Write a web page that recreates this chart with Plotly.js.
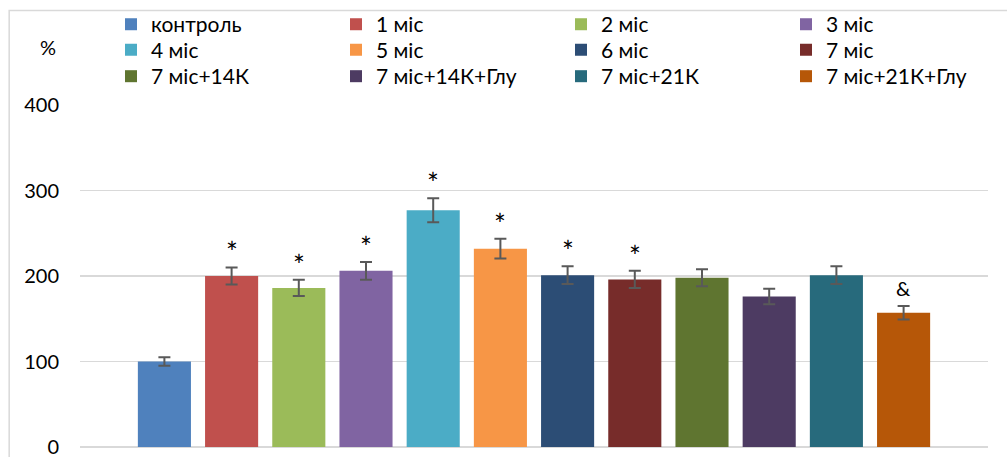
<!DOCTYPE html>
<html>
<head>
<meta charset="utf-8">
<script src="https://cdn.plot.ly/plotly-3.0.1.min.js"></script>
<style>html,body{margin:0;padding:0;background:#fff;}#chart{width:1007px;height:457px;}</style>
</head>
<body>
<div id="chart"></div>
<script>
const categories = ["контроль","1 міс","2 міс","3 міс","4 міс","5 міс","6 міс","7 міс","7 міс+14К","7 міс+14К+Глу","7 міс+21К","7 міс+21К+Глу"];
const values = [100, 200, 186, 206, 277, 232, 201, 196, 198, 176, 201, 157];
const errors = [5, 10, 9.5, 10.5, 14, 11.5, 10.5, 10, 10, 9, 10.5, 8];
const marks = ["", "*", "*", "*", "*", "*", "*", "*", "", "", "", "&"];
const colors = ["#4F81BD","#C0504D","#9BBB59","#8064A2","#4BACC6","#F79646","#2C4D75","#772C2A","#5F7530","#4D3B62","#276A7C","#B65708"];

const FONT = "Lato, 'Open Sans', sans-serif";
const legendIds = ["legend", "legend2", "legend3"];

const traces = categories.map((c, i) => ({
  type: "bar",
  name: c,
  x: [c],
  y: [values[i]],
  legend: legendIds[Math.floor(i / 4)],
  marker: {color: colors[i]},
  error_y: {type: "data", array: [errors[i]], visible: true, color: "#595959", thickness: 2, width: 6},
  hoverinfo: "name+y"
}));

const annotations = categories.map((c, i) => {
  const star = marks[i] === "*";
  return {
    x: c, y: values[i] + errors[i], xref: "x", yref: "y",
    text: marks[i], showarrow: false, yanchor: "bottom", yshift: star ? -4 : 4,
    font: {family: FONT, size: star ? 28 : 20, color: "#000"}
  };
}).filter(a => a.text !== "");

annotations.push({
  xref: "paper", yref: "paper", x: -0.035, y: 1.17, text: "%", showarrow: false,
  xanchor: "center", yanchor: "middle", font: {family: FONT, size: 20, color: "#000"}
});

const PL = 80, PW = 908, PB = 447.3, PH = 342.3;
const rowTop = [4, 29.5, 56];
const layout = {
  width: 1007, height: 457,
  margin: {l: 80, r: 19, t: 105, b: 10, pad: 0, autoexpand: false},
  paper_bgcolor: "#fff", plot_bgcolor: "#fff",
  barmode: "overlay", bargap: 0.21,
  font: {family: FONT, size: 20, color: "#000"},
  xaxis: {type: "category", categoryarray: categories, categoryorder: "array",
          range: [-1.256, 12.256], showticklabels: false, showgrid: false,
          zeroline: false, showline: false, ticks: ""},
  yaxis: {range: [0, 400], dtick: 100, tick0: 0, showgrid: true, gridcolor: "#d9d9d9", gridwidth: 1.3,
          zeroline: true, zerolinecolor: "#d9d9d9", zerolinewidth: 1.3, showline: false, ticks: "",
          ticklabelstandoff: 20, ticklabeloverflow: "allow",
          tickfont: {family: FONT, size: 20, color: "#000"}},
  showlegend: true,
  shapes: [{type: "rect", xref: "paper", yref: "paper", x0: -0.078, x1: 1.05, y0: -0.1, y1: 1.276,
            line: {color: "#d9d9d9", width: 1.5}, fillcolor: "rgba(0,0,0,0)", layer: "below"}],
  annotations: annotations
};
legendIds.forEach((id, r) => {
  layout[id] = {orientation: "h", xref: "paper", yref: "paper",
                x: (111 - PL) / PW, y: (PB - rowTop[r]) / PH,
                xanchor: "left", yanchor: "top", traceorder: "normal", bgcolor: "rgba(0,0,0,0)",
                entrywidth: 180, entrywidthmode: "pixels",
                font: {family: FONT, size: 21, color: "#000"}, tracegroupgap: 0, itemclick: false};
});

Plotly.newPlot("chart", traces, layout, {displayModeBar: false, staticPlot: true});
</script>
</body>
</html>
